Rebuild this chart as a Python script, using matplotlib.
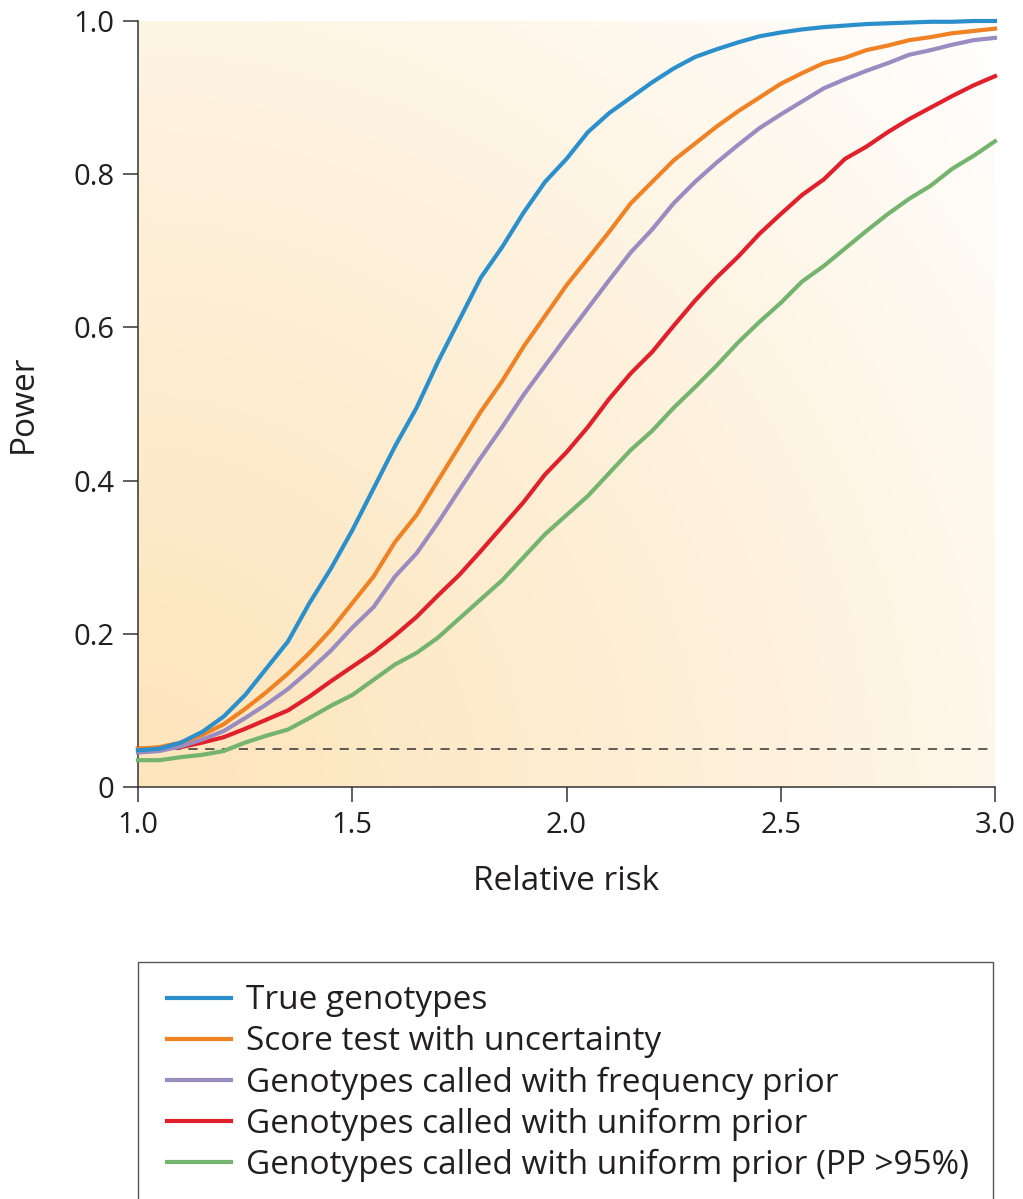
import numpy as np
import matplotlib
matplotlib.use("Agg")
import matplotlib.pyplot as plt
from matplotlib.colors import to_rgb
from matplotlib.patches import Rectangle
from matplotlib.lines import Line2D

plt.rcParams['font.family'] = ['Open Sans', 'DejaVu Sans']

relative_risk = [1.00, 1.05, 1.10, 1.15, 1.20, 1.25, 1.30, 1.35, 1.40, 1.45,
                 1.50, 1.55, 1.60, 1.65, 1.70, 1.75, 1.80, 1.85, 1.90, 1.95,
                 2.00, 2.05, 2.10, 2.15, 2.20, 2.25, 2.30, 2.35, 2.40, 2.45,
                 2.50, 2.55, 2.60, 2.65, 2.70, 2.75, 2.80, 2.85, 2.90, 2.95, 3.00]

true_genotypes = [0.048, 0.050, 0.058, 0.072, 0.092, 0.120, 0.155, 0.190, 0.240, 0.285,
                  0.335, 0.390, 0.445, 0.495, 0.555, 0.610, 0.665, 0.705, 0.750, 0.790,
                  0.820, 0.855, 0.880, 0.900, 0.920, 0.938, 0.953, 0.963, 0.972, 0.980,
                  0.985, 0.989, 0.992, 0.994, 0.996, 0.997, 0.998, 0.999, 0.999, 1.000, 1.000]

score_test = [0.050, 0.052, 0.058, 0.068, 0.082, 0.102, 0.124, 0.148, 0.175, 0.205,
              0.240, 0.275, 0.320, 0.355, 0.400, 0.445, 0.490, 0.530, 0.575, 0.615,
              0.655, 0.690, 0.725, 0.762, 0.790, 0.818, 0.840, 0.862, 0.882, 0.900,
              0.918, 0.932, 0.945, 0.952, 0.962, 0.968, 0.975, 0.979, 0.984, 0.987, 0.990]

freq_prior = [0.045, 0.047, 0.053, 0.062, 0.073, 0.090, 0.108, 0.128, 0.152, 0.178,
              0.208, 0.235, 0.275, 0.305, 0.345, 0.388, 0.430, 0.470, 0.512, 0.550,
              0.588, 0.625, 0.662, 0.698, 0.728, 0.762, 0.790, 0.815, 0.838, 0.860,
              0.878, 0.895, 0.912, 0.924, 0.935, 0.945, 0.956, 0.962, 0.969, 0.975, 0.978]

uniform_prior = [0.050, 0.050, 0.052, 0.058, 0.065, 0.076, 0.088, 0.100, 0.118, 0.138,
                 0.157, 0.176, 0.198, 0.222, 0.250, 0.277, 0.308, 0.340, 0.372, 0.408,
                 0.437, 0.470, 0.507, 0.540, 0.568, 0.602, 0.635, 0.665, 0.692, 0.722,
                 0.748, 0.773, 0.793, 0.820, 0.836, 0.855, 0.872, 0.887, 0.902, 0.916, 0.928]

uniform_pp95 = [0.035, 0.035, 0.039, 0.042, 0.047, 0.058, 0.067, 0.075, 0.090, 0.106,
                0.120, 0.140, 0.160, 0.175, 0.195, 0.220, 0.245, 0.270, 0.300, 0.330,
                0.355, 0.380, 0.410, 0.440, 0.465, 0.495, 0.522, 0.550, 0.580, 0.607,
                0.632, 0.660, 0.680, 0.703, 0.726, 0.748, 0.768, 0.785, 0.807, 0.824, 0.843]

series_labels = ['True genotypes',
                 'Score test with uncertainty',
                 'Genotypes called with frequency prior',
                 'Genotypes called with uniform prior',
                 'Genotypes called with uniform prior (PP >95%)']
series_colors = ['#2a8fcb', '#ee8224', '#9a8bc0', '#e0202a', '#75b46e']
alpha_level = 0.05

x_ticks = [1.0, 1.5, 2.0, 2.5, 3.0]
y_ticks = [0, 0.2, 0.4, 0.6, 0.8, 1.0]
x_ticklabels = ['1.0', '1.5', '2.0', '2.5', '3.0']
y_ticklabels = ['0', '0.2', '0.4', '0.6', '0.8', '1.0']

W, H = 1023, 1199
fig = plt.figure(figsize=(W / 100, H / 100), dpi=100)
ax = fig.add_axes([138 / W, 1 - 787 / H, (995 - 138) / W, (787 - 21) / H])
ax.set_xlim(1.0, 3.0)
ax.set_ylim(0, 1.0)

# radial gradient background (from bottom-left corner)
ny, nx = 300, 300
gx = np.linspace(0, 857, nx)
gy = np.linspace(0, 766, ny)
GX, GY = np.meshgrid(gx, gy)
d = np.sqrt((GX + 20) ** 2 + (GY + 20) ** 2)
t = np.clip(d / d.max(), 0, 1) ** 1.25
c0 = np.array(to_rgb('#fde5bc'))
c1 = np.array([1.0, 1.0, 1.0])
img = c0[None, None, :] * (1 - t[..., None]) + c1[None, None, :] * t[..., None]
ax.imshow(img, extent=[1.0, 3.0, 0, 1.0], origin='lower', aspect='auto', zorder=0,
          interpolation='bilinear')

ax.axhline(alpha_level, color='#333333', lw=1.1, ls=(0, (6, 5)), zorder=1)

all_series = [true_genotypes, score_test, freq_prior, uniform_prior, uniform_pp95]
order = [4, 3, 2, 1, 0]
for i in order:
    ax.plot(relative_risk, all_series[i], color=series_colors[i], lw=3.0,
            solid_joinstyle='round', zorder=2 + (5 - i), clip_on=False)

for s in ['top', 'right']:
    ax.spines[s].set_visible(False)
for s in ['left', 'bottom']:
    ax.spines[s].set_color('#333333')
    ax.spines[s].set_linewidth(1.1)

ax.set_xticks(x_ticks)
ax.set_xticklabels(x_ticklabels)
ax.set_yticks(y_ticks)
ax.set_yticklabels(y_ticklabels)
ax.tick_params(axis='both', direction='out', length=11, width=1.1, color='#333333',
               labelsize=21, labelcolor='#231f20', pad=6)
ax.set_xlabel('Relative risk', fontsize=24, color='#231f20', labelpad=18)
ax.set_ylabel('Power', fontsize=24, color='#231f20', labelpad=24)

# legend box
fig.patches.append(Rectangle((138 / W, -0.01), (993 - 138) / W, 1 - 962 / H + 0.01,
                             transform=fig.transFigure, facecolor='white',
                             edgecolor='#555555', lw=1.0, zorder=0))
handles = [Line2D([0], [0], color=c, lw=3.0) for c in series_colors]
leg = fig.legend(handles, series_labels, loc='upper left',
                 bbox_to_anchor=(154 / W, 1 - 971 / H), frameon=False,
                 fontsize=24, handlelength=1.9, handletextpad=0.45,
                 labelspacing=0.24, borderaxespad=0, labelcolor='#231f20')

fig.savefig('out.png', dpi=100)
